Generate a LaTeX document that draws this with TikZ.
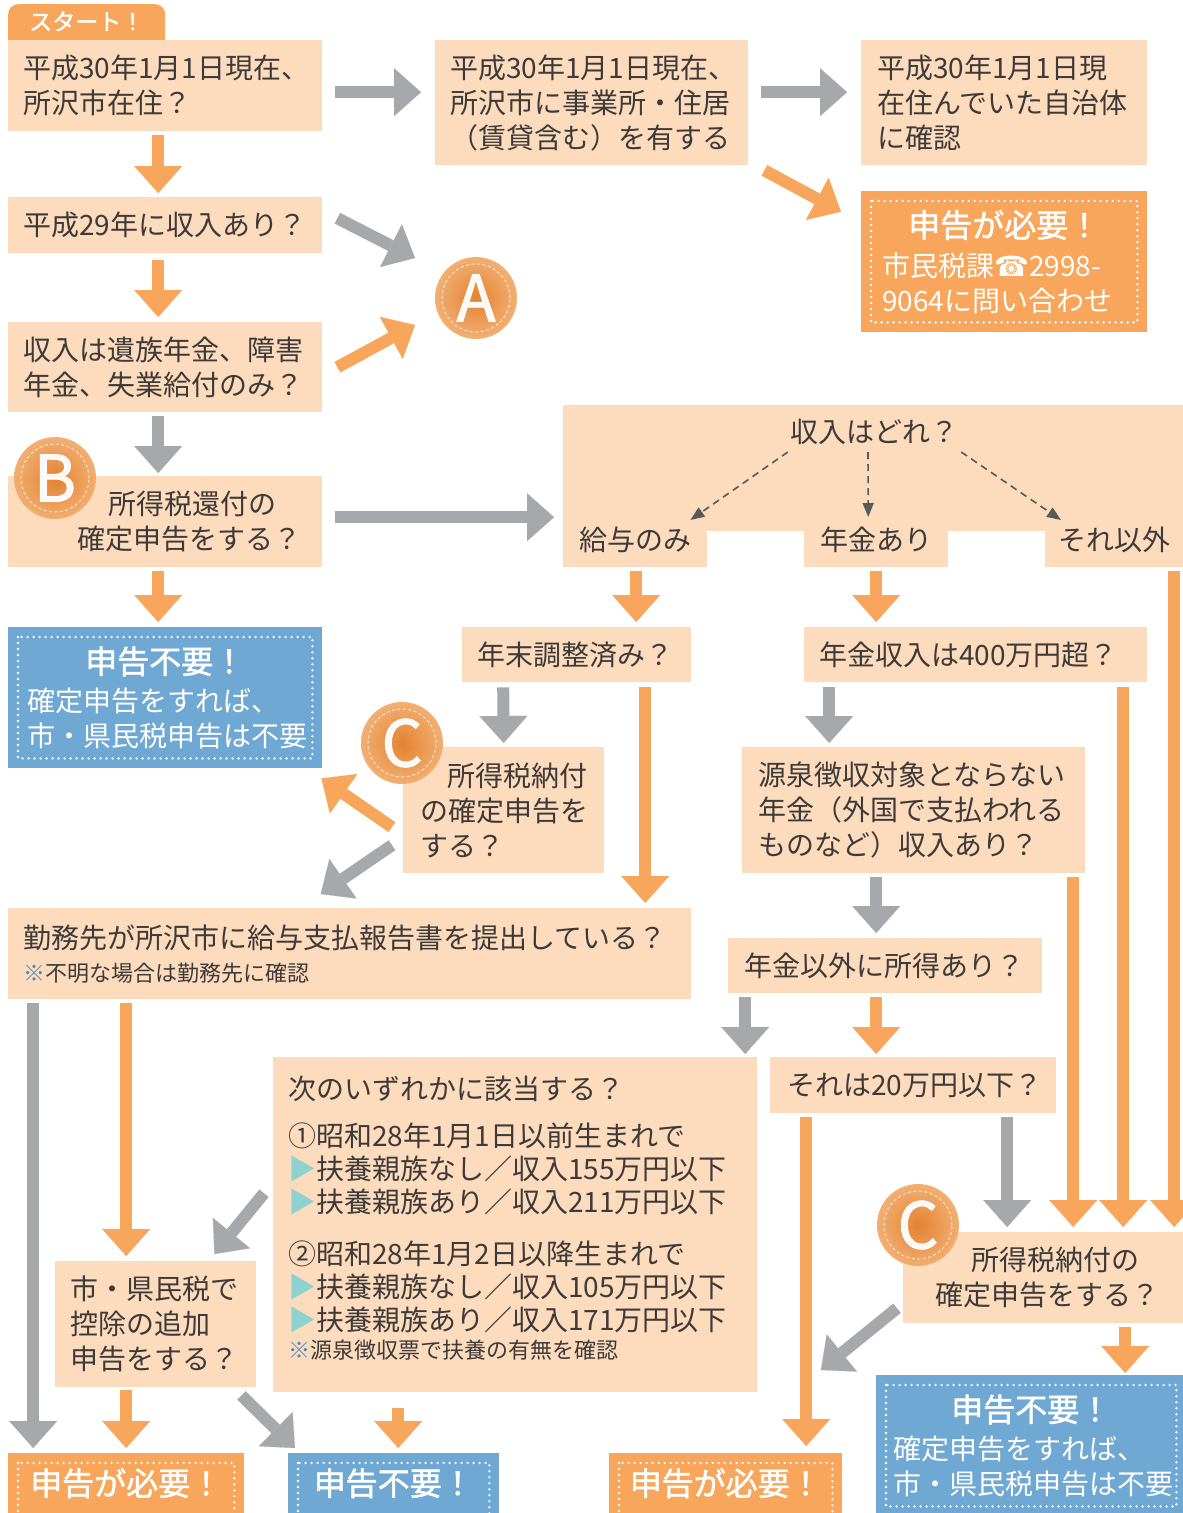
\documentclass[tikz,border=0pt]{standalone}
\usepackage{fontspec}
\setmainfont{Noto Sans CJK JP}
\newfontface\headfont{Noto Sans CJK JP}[RawFeature={embolden=1.6}]
\newfontfamily\phonefont{DejaVu Sans}
\usepackage{tikz}
\usetikzlibrary{arrows.meta}
\definecolor{flowpeach}{HTML}{FDDCBD}
\definecolor{floworange}{HTML}{F8A65B}
\definecolor{flowgray}{HTML}{A6A8AB}
\definecolor{flowblue}{HTML}{6FA8D3}
\definecolor{flowink}{HTML}{3E3A39}
\definecolor{flowteal}{HTML}{8ED1D0}
\definecolor{flowdash}{HTML}{58595B}
\definecolor{flowkome}{HTML}{4A86C5}
\definecolor{badgein}{HTML}{E27C28}
\definecolor{badgeout}{HTML}{F2AC6C}
\newcommand{\trimark}{\textcolor{flowteal}{▶}}
\newcommand{\komemark}{\textcolor{flowkome}{※}}
\newcommand{\hdline}[2]{\makebox[#1][c]{\fontsize{32}{40}\headfont #2}}
\newcommand{\smalltext}{\fontsize{22}{28}\selectfont}

\tikzset{
  box/.style={fill=flowpeach, text=flowink, anchor=north west, inner xsep=15pt,
    inner ysep=0pt, align=left, font=\fontsize{28}{35}\selectfont},
  needbox/.style={box, fill=floworange, text=white},
  okbox/.style={box, fill=flowblue, text=white},
  lbl/.style={inner sep=0pt, text=flowink, font=\fontsize{28}{35}\selectfont},
  starttab/.style={fill=floworange, text=white, rounded corners=10pt, anchor=north west,
    inner sep=0pt, minimum width=157pt, minimum height=46pt,
    font=\fontsize{23}{26}\headfont, text height=19pt, text depth=13pt},
  dotframe/.style={draw=white, line width=2.6pt, line cap=round, dash pattern=on 0pt off 6pt},
  garrow/.style={draw=flowgray, line width=12pt,
    -{Triangle[width=48pt,length=27pt,line width=0.1pt]}},
  oarrow/.style={garrow, draw=floworange},
  darrow/.style={draw=flowdash, line width=1.6pt, dash pattern=on 7pt off 5pt,
    -{Triangle[width=11pt,length=14pt]}},
  badge/.style={circle, minimum size=82pt, inner sep=0pt, inner color=badgein,
    outer color=badgeout, text=white, font=\fontsize{64}{64}\headfont},
  ringline/.style={draw=white, line width=1pt, dash pattern=on 3pt off 2.5pt, opacity=0.7}
}

\begin{document}
\begin{tikzpicture}[x=1pt,y=-1pt]
    \useasboundingbox (0,0) rectangle (1183,1513);
    \clip (0,0) rectangle (1183,1513);
    \fill[white] (0,0) rectangle (1183,1513);

    % top rows
    \node[starttab] (start) at (8,4) {スタート！};
    \node[box, text width=284pt, minimum height=91pt] (q1) at (8,40) {平成30年1月1日現在、\\所沢市在住？};
    \node[box, text width=283pt, minimum height=125pt] (q2) at (435,40) {平成30年1月1日現在、\\所沢市に事業所・住居\\（賃貸含む）を有する};
    \node[box, inner xsep=16pt, text width=254pt, minimum height=125pt] (q3) at (861,40) {平成30年1月1日現\\在住んでいた自治体\\に確認};
    \node[needbox, inner xsep=21pt, text width=244pt, minimum height=141pt] (need1) at (861,191)
      {\hdline{244pt}{申告が必要！}\\[4pt]市民税課{\phonefont ☎}2998-\\9064に問い合わせ};
    \node[box, text width=284pt, minimum height=56pt] (q4) at (8,197) {平成29年に収入あり？};
    \node[box, text width=284pt, minimum height=90pt] (q5) at (8,322) {収入は遺族年金、障害\\年金、失業給付のみ？};
    \node[box, text width=284pt, minimum height=91pt] (qB) at (8,476) {\hspace*{85pt}所得税還付の\\\hspace*{54pt}確定申告をする？};
    \node[okbox, inner xsep=19pt, text width=276pt, minimum height=141pt] (nofile1) at (8,627)
      {\hdline{276pt}{申告不要！}\\[3pt]確定申告をすれば、\\市・県民税申告は不要};

    % income split
    \node[box, minimum width=620pt, minimum height=126pt] (inc) at (563,405) {};
    \node[box, inner xsep=0pt, align=center, minimum width=144pt, minimum height=54pt] (sal) at (563,513) {給与のみ};
    \node[box, inner xsep=0pt, align=center, minimum width=144pt, minimum height=54pt] (pen) at (804,513) {年金あり};
    \node[box, inner xsep=0pt, align=center, minimum width=138pt, minimum height=54pt] (oth) at (1045,513) {それ以外};
    \node[lbl] (inct) at (874,432) {収入はどれ？};

    % middle rows
    \node[box, text width=199pt, minimum height=55pt] (q6) at (462,627) {年末調整済み？};
    \node[box, text width=313pt, minimum height=55pt] (q7) at (804,627) {年金収入は400万円超？};
    \node[box, inner xsep=17pt, text width=167pt, minimum height=126pt] (qC1) at (403,747) {\hspace*{27pt}所得税納付\\の確定申告を\\する？};
    \node[box, inner xsep=16pt, text width=311pt, minimum height=126pt] (q8) at (742,747) {源泉徴収対象とならない\\年金（外国で支払われる\\ものなど）収入あり？};
    \node[box, text width=653pt, minimum height=91pt] (q9) at (8,908)
      {勤務先が所沢市に給与支払報告書を提出している？\\[-2pt]{\smalltext\komemark 不明な場合は勤務先に確認}};
    \node[box, inner xsep=16pt, text width=282pt, minimum height=55pt] (q10) at (728,938) {年金以外に所得あり？};
    \node[box, inner xsep=17pt, text width=252pt, minimum height=56pt] (q11) at (770,1057) {それは20万円以下？};
    \node[box, text width=454pt, minimum height=335pt, font=\fontsize{28}{33}\selectfont] (q12) at (273,1057)
      {次のいずれかに該当する？\\[14pt]
       ①昭和28年1月1日以前生まれで\\
       \trimark 扶養親族なし／収入155万円以下\\
       \trimark 扶養親族あり／収入211万円以下\\[19pt]
       ②昭和28年1月2日以降生まれで\\
       \trimark 扶養親族なし／収入105万円以下\\
       \trimark 扶養親族あり／収入171万円以下\\[-5pt]
       {\smalltext\komemark 源泉徴収票で扶養の有無を確認}\rule[-14pt]{0pt}{14pt}};
    \node[box, text width=171pt, minimum height=126pt] (q13) at (55,1261) {市・県民税で\\控除の追加\\申告をする？};
    \node[box, text width=255pt, minimum height=91pt] (qC2) at (903,1232) {\hspace*{53pt}所得税納付の\\\hspace*{17pt}確定申告をする？};

    % results at the bottom
    \node[okbox, inner xsep=17pt, text width=276pt, minimum height=141pt] (nofile2) at (876,1375)
      {\hdline{276pt}{申告不要！}\\[3pt]確定申告をすれば、\\市・県民税申告は不要};
    \node[needbox, inner xsep=0pt, text width=236pt, minimum height=60pt] (need2) at (8,1453) {\hdline{236pt}{申告が必要！}};
    \node[okbox, inner xsep=0pt, text width=211pt, minimum height=60pt] (nofile3) at (288,1453) {\hdline{211pt}{申告不要！}};
    \node[needbox, inner xsep=0pt, text width=233pt, minimum height=60pt] (need3) at (609,1453) {\hdline{233pt}{申告が必要！}};

    \foreach \n in {need1,nofile1,nofile2}
      \draw[dotframe] ([shift={(10,10)}]\n.north west) rectangle ([shift={(-10,-10)}]\n.south east);
    \foreach \n in {need2,nofile3,need3}
      \draw[dotframe] ([shift={(10,10)}]\n.north west) rectangle ([shift={(-10,20)}]\n.south east);

    % badges
    \node[badge, fill opacity=0.95] (A) at (476,298) {A};
    \node[badge, fill opacity=0.95] (B) at (55,478) {B};
    \node[badge, fill opacity=0.95] (C1) at (402,743) {C};
    \node[badge, fill opacity=0.95] (C2) at (918,1225) {C};
    \foreach \n in {A,B,C1,C2}
      \draw[ringline] (\n.center) circle[radius=34pt];

    % connectors
    \draw[garrow] ([shift={(13,6.5)}]q1.east) -- ([shift={(-14,-10.5)}]q2.west);
    \draw[garrow] ([shift={(13,-10.5)}]q2.east) -- ([shift={(-14,-10.5)}]q3.west);
    \draw[oarrow] ([shift={(16,5)}]q2.south east) -- ([shift={(-20,-50)}]need1.west);
    \draw[oarrow] ([shift={(-7,4)}]q1.south) -- ([shift={(-7,-4)}]q4.north);
    \draw[garrow] ([shift={(15,-7)}]q4.east) -- ([shift={(-61,-40)}]A.center);
    \draw[oarrow] ([shift={(15,0)}]q5.east) -- ([shift={(-61,27)}]A.center);
    \draw[oarrow] ([shift={(-7,7)}]q4.south) -- ([shift={(-7,-5)}]q5.north);
    \draw[garrow] ([shift={(-7,4)}]q5.south) -- ([shift={(-7,-3)}]qB.north);
    \draw[garrow] ([shift={(13,-4.5)}]qB.east) -- ([shift={(-9,49)}]inc.west);
    \draw[oarrow] ([shift={(-7,4)}]qB.south) -- ([shift={(-7,-5)}]nofile1.north);
    \draw[darrow] ([shift={(-2,7)}]inct.south west) -- ([shift={(-17,7)}]sal.north east);
    \draw[darrow] ([shift={(-6,7)}]inct.south) -- ([shift={(-8,4)}]pen.north);
    \draw[darrow] ([shift={(3,7)}]inct.south east) -- ([shift={(16,7)}]oth.north west);
    \draw[oarrow] ([shift={(1,4)}]sal.south) -- ([shift={(59.5,-5)}]q6.north);
    \draw[oarrow] ([shift={(0,4)}]pen.south) -- ([shift={(-99.5,-5)}]q7.north);
    \draw[oarrow] ([shift={(60,4)}]oth.south) -- ([shift={(128.5,-5)}]qC2.north);
    \draw[garrow] ([shift={(-73.5,5)}]q6.south) -- ([shift={(0,-4)}]qC1.north);
    \draw[oarrow] ([shift={(68.5,5)}]q6.south) -- ([shift={(295.5,-5)}]q9.north);
    \draw[garrow] ([shift={(-146.5,5)}]q7.south) -- ([shift={(-84.5,-4)}]q8.north);
    \draw[oarrow] ([shift={(147.5,5)}]q7.south) -- ([shift={(77.5,-5)}]qC2.north);
    \draw[oarrow] ([shift={(-11,17)}]qC1.west) -- ([shift={(-1,10)}]nofile1.south east);
    \draw[garrow] ([shift={(-11,35)}]qC1.west) -- ([shift={(-29,-14)}]q9.north);
    \draw[garrow] ([shift={(-37.5,4)}]q8.south) -- ([shift={(-9,-5)}]q10.north);
    \draw[oarrow] ([shift={(159.5,4)}]q8.south) -- ([shift={(27.5,-5)}]qC2.north);
    \draw[garrow] ([shift={(-140,4)}]q10.south) -- ([shift={(230,-3)}]q12.north);
    \draw[oarrow] ([shift={(-9,4)}]q10.south) -- ([shift={(-37,-3)}]q11.north);
    \draw[oarrow] ([shift={(-107,4)}]q11.south) -- ([shift={(80.5,-7)}]need3.north);
    \draw[garrow] ([shift={(94,4)}]q11.south) -- ([shift={(-38.5,-5)}]qC2.north);
    \draw[garrow] ([shift={(-316.5,4)}]q9.south) -- ([shift={(-93,-5)}]need2.north);
    \draw[oarrow] ([shift={(-223.5,4)}]q9.south) -- ([shift={(-29.5,-5)}]q13.north);
    \draw[garrow] ([shift={(-9,-31.5)}]q12.west) -- ([shift={(-42,-7)}]q13.north east);
    \draw[oarrow] ([shift={(-29.5,3)}]q13.south) -- ([shift={(0,-5)}]need2.north);
    \draw[garrow] ([shift={(-15,8)}]q13.south east) -- ([shift={(7,-5)}]nofile3.north west);
    \draw[oarrow] ([shift={(-117,16)}]q12.south) -- ([shift={(4.5,-5)}]nofile3.north);
    \draw[garrow] ([shift={(-6,30.5)}]qC2.west) -- ([shift={(-21.5,-83)}]need3.north east);
    \draw[oarrow] ([shift={(79.5,4)}]qC2.south) -- ([shift={(94,-2)}]nofile2.north);
\end{tikzpicture}
\end{document}
